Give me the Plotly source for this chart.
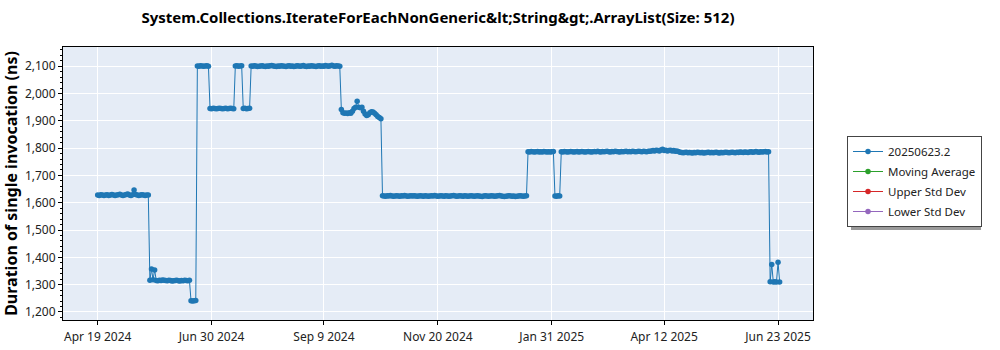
import pandas as pd
import plotly.graph_objects as go

# ---------------- data ----------------
start_date = "2024-04-19"          # first run (daily runs)
series_name = "20250623.2"

durations_ns = [
    # Apr 19 2024 ...
    1628, 1627, 1629, 1628, 1627, 1628, 1629, 1627, 1628, 1630,
    1628, 1627, 1628, 1629, 1631, 1628, 1627, 1628, 1630, 1632,
    1628, 1627, 1629, 1647, 1630, 1628, 1627, 1628, 1629, 1628,
    1627, 1628, 1628,
    1316, 1357, 1318, 1354, 1315, 1314, 1316, 1315, 1317, 1316,
    1315, 1314, 1316, 1315, 1313, 1314, 1315, 1316, 1314, 1313,
    1315, 1314, 1316, 1315, 1314, 1316,
    1241, 1240, 1241, 1242,
    2101, 2100, 2102, 2101, 2100, 2101, 2102, 2100,
    1945, 1944, 1946, 1945, 1944, 1945, 1946, 1945, 1944, 1945,
    1946, 1944, 1945, 1946, 1945, 1944,
    2101, 2102, 2100, 2101, 2102,
    1945, 1946, 1944, 1945, 1946,
    2101, 2100, 2102, 2101, 2099, 2100, 2101, 2102, 2100, 2099,
    2101, 2100, 2102, 2103, 2101, 2100, 2099, 2101, 2100, 2102,
    2101, 2100, 2099, 2101, 2102, 2100, 2101, 2099, 2100, 2102,
    2101, 2100, 2101, 2103, 2100, 2099, 2101, 2100, 2102, 2101,
    2100, 2099, 2101, 2102, 2100, 2101, 2100, 2103, 2101, 2100,
    2102, 2104, 2101, 2100, 2102, 2101, 2100,
    1942, 1930, 1928, 1929, 1927, 1930, 1928, 1935, 1945, 1950,
    1972, 1950, 1948, 1950, 1935, 1925, 1920, 1922, 1930, 1933,
    1932, 1928, 1922, 1916, 1912, 1908,
    1626, 1625, 1624, 1626, 1625, 1627, 1625, 1624, 1625, 1626,
    1625, 1624, 1626, 1625, 1627, 1625, 1624, 1625, 1626, 1625,
    1626, 1625, 1624, 1625, 1626, 1625, 1624, 1626, 1625, 1624,
    1625, 1626, 1625, 1627, 1625, 1624, 1625, 1626, 1625, 1624,
    1626, 1625, 1624, 1625, 1626, 1627, 1625, 1624, 1625, 1626,
    1625, 1624, 1626, 1625, 1624, 1625, 1626, 1625, 1624, 1625,
    1626, 1625, 1624, 1623, 1625, 1626, 1625, 1624, 1625, 1626,
    1625, 1624, 1625, 1626, 1627, 1625, 1624, 1623, 1624, 1625,
    1626, 1625, 1624, 1625, 1623, 1624, 1625, 1626, 1625, 1624,
    1625, 1626,
    1787, 1786, 1788, 1787, 1786, 1787, 1788, 1786, 1787, 1786,
    1788, 1787, 1786, 1787, 1786, 1787, 1788,
    1625, 1624, 1626, 1625,
    1787, 1786, 1788, 1787, 1786, 1787, 1788, 1787, 1786, 1787,
    1788, 1786, 1787, 1788, 1787, 1786, 1787, 1788, 1787, 1786,
    1787, 1788, 1787, 1789, 1787, 1786, 1788, 1787, 1788, 1789,
    1787, 1786, 1788, 1787, 1789, 1788, 1787, 1786, 1788, 1787,
    1788, 1789, 1787, 1788, 1787, 1789, 1788, 1787, 1788, 1789,
    1788, 1787, 1789, 1788, 1787, 1789,
    1789, 1790, 1791, 1790, 1792, 1791, 1790, 1793, 1796, 1791,
    1792, 1790, 1791, 1792, 1790, 1791, 1789, 1790, 1788,
    1785, 1784, 1783, 1784, 1785, 1783, 1784, 1783, 1782, 1784,
    1783, 1785, 1784, 1783, 1784, 1782, 1783, 1784, 1785, 1783,
    1784, 1783, 1784, 1785, 1783, 1782, 1784, 1783, 1784, 1785,
    1784, 1783, 1784, 1785, 1784, 1783, 1785, 1784, 1786, 1785,
    1784, 1786, 1785, 1784, 1786, 1787, 1785, 1786, 1788, 1786,
    1785, 1787, 1786, 1787, 1788, 1786, 1787,
    1311, 1374, 1310, 1311, 1310, 1382, 1310,
]

extra_series = ["Moving Average", "Upper Std Dev", "Lower Std Dev"]
extra_colors = ["#2ca02c", "#d62728", "#9467bd"]

x_tick_dates = ["2024-04-19", "2024-06-30", "2024-09-09", "2024-11-20",
                "2025-01-31", "2025-04-12", "2025-06-23"]
x_tick_labels = ["Apr 19 2024", "Jun 30 2024", "Sep 9 2024", "Nov 20 2024",
                 "Jan 31 2025", "Apr 12 2025", "Jun 23 2025"]

title_text = "System.Collections.IterateForEachNonGeneric&amp;lt;String&amp;gt;.ArrayList(Size: 512)"
y_title = "Duration of single invocation (ns)"

dates = pd.date_range(start=start_date, periods=len(durations_ns), freq="D")

FONT = "Noto Sans"

# ---------------- figure ----------------
fig = go.Figure()
fig.add_trace(go.Scatter(
    x=dates, y=durations_ns, mode="lines+markers", name=series_name,
    legendgroup="g0",
    line=dict(color="#1f77b4", width=1),
    marker=dict(color="#1f77b4", size=5.5),
))
for i, (nm, col) in enumerate(zip(extra_series, extra_colors)):
    fig.add_trace(go.Scatter(
        x=[None], y=[None], mode="lines+markers", name=nm,
        legendgroup=f"g{i + 1}",
        line=dict(color=col, width=1), marker=dict(color=col, size=5.5),
    ))

L, R, T, B = 63, 813, 47, 320
W, H = 1000, 350
pw, ph = R - L, B - T

def px_x(p):
    return (p - L) / pw

def px_y(p):
    return (B - p) / ph

# legend shadow
fig.add_shape(type="rect", xref="paper", yref="paper",
              x0=px_x(851), x1=px_x(981), y0=px_y(230), y1=px_y(140),
              fillcolor="#9a9a9a", line=dict(width=0), layer="below")

fig.update_layout(
    width=W, height=H,
    margin=dict(l=L, r=W - R, t=T, b=H - B),
    paper_bgcolor="white",
    plot_bgcolor="#E5ECF6",
    font=dict(family=FONT, size=12, color="#222"),
    title=dict(text=title_text, x=(L + R) / 2 / W, xanchor="center",
               y=1 - 18 / H, yanchor="middle",
               font=dict(family=FONT, size=15, color="black", weight="bold")),
    showlegend=True,
    legend=dict(x=px_x(847), y=px_y(136), xanchor="left", yanchor="top",
                bgcolor="white", bordercolor="#444", borderwidth=1,
                font=dict(family=FONT, size=11.5, color="#222"),
                tracegroupgap=1),
)

fig.update_xaxes(
    type="date",
    range=["2024-03-28 02:00", "2025-07-15 02:00"],
    tickvals=x_tick_dates, ticktext=x_tick_labels,
    showgrid=True, gridcolor="white", gridwidth=1,
    showline=True, linecolor="black", linewidth=1, mirror=True,
    ticks="outside", ticklen=4, tickcolor="black",
    ticklabelstandoff=2,
    tickfont=dict(family=FONT, size=12, color="#222"),
    zeroline=False, automargin=False,
)
fig.update_yaxes(
    range=[1170.5, 2170.5],
    dtick=100, tick0=0, tickformat=",",
    showgrid=True, gridcolor="white", gridwidth=1,
    showline=True, linecolor="black", linewidth=1, mirror=True,
    ticks="outside", ticklen=4, tickcolor="black",
    minor=dict(dtick=20, ticks="outside", ticklen=2, tickcolor="black", showgrid=False),
    tickfont=dict(family=FONT, size=12, color="#222"),
    title=dict(text=y_title, standoff=6,
               font=dict(family=FONT, size=16, color="black", weight="bold")),
    zeroline=False, automargin=False,
)

fig.write_html("out.html")
